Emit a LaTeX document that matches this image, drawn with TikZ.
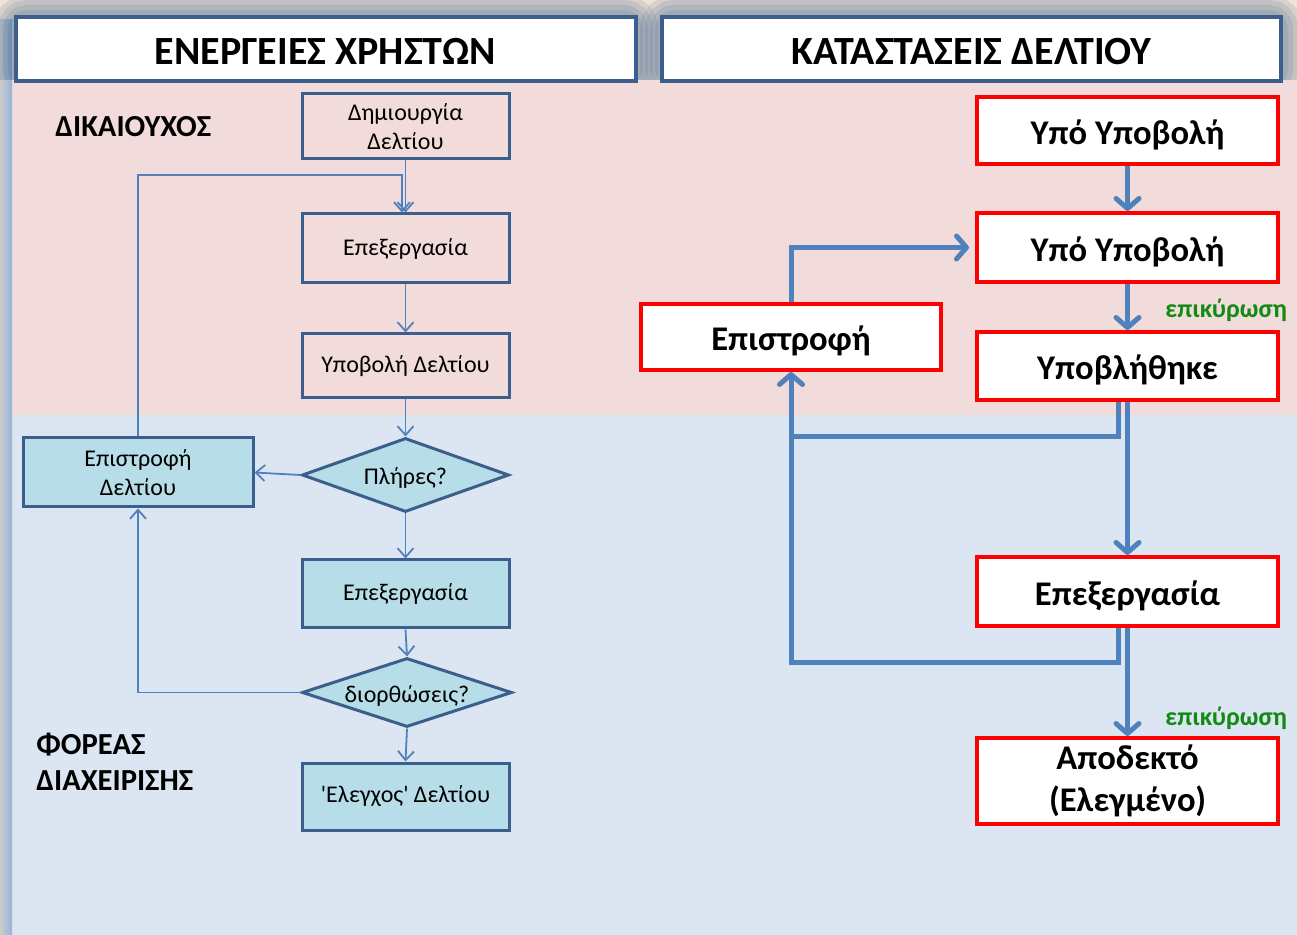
\documentclass[tikz,border=0pt]{standalone}
\usepackage{fontspec}
\setmainfont{Carlito}
\newfontfamily\lfont{Carlito}
\usetikzlibrary{arrows.meta,shapes.geometric}
\definecolor{pinkbg}{HTML}{F2DCDB}
\definecolor{bluebg}{HTML}{DCE6F2}
\definecolor{topbg}{HTML}{F0E3D5}
\definecolor{hdrblue}{HTML}{3B5E8C}
\definecolor{lineblue}{HTML}{4F81BD}
\definecolor{boxfill}{HTML}{B7DEE8}
\definecolor{okgreen}{HTML}{138A13}
\tikzset{
  hdr/.style={draw=hdrblue, line width=2pt, fill=white, minimum width=310pt, minimum height=32pt, inner sep=0pt, text height=15.6pt, text depth=0pt, font=\bfseries\fontsize{20}{22}\selectfont},
  lbox/.style={draw=hdrblue, line width=1.5pt, minimum width=103.5pt, inner sep=1pt, align=center, font=\lfont\fontsize{12}{14.5}\selectfont},
  lfill/.style={fill=boxfill},
  ldia/.style={diamond, aspect=2.8, draw=hdrblue, line width=1.5pt, fill=boxfill, inner sep=0pt, text height=9.8pt, text depth=0pt, font=\lfont\fontsize{12}{14.5}\selectfont},
  rbox/.style={draw=red, line width=2pt, fill=white, minimum width=150.5pt, inner sep=1pt, align=center, font=\bfseries\fontsize{17.3}{21}\selectfont},
  rone/.style={text height=14pt, text depth=0pt},
  thin/.style={draw=lineblue, line width=0.9pt, -{Straight Barb[length=4.5pt,width=8pt]}},
  thick/.style={draw=lineblue, line width=2.5pt, -{Straight Barb[length=5pt,width=11.5pt,round]}},
  thickline/.style={draw=lineblue, line width=2.5pt},
  lane/.style={font=\bfseries\fontsize{15.3}{18}\selectfont, align=left, inner sep=0pt},
  ok/.style={text=okgreen, font=\bfseries\fontsize{13}{15}\selectfont, inner sep=0pt}
}
\begin{document}
\begin{tikzpicture}[x=0.5pt,y=-0.5pt]
\useasboundingbox (0,0) rectangle (1297,935);
% backgrounds
\fill[topbg] (0,0) rectangle (1297,80);
\fill[pinkbg] (12,80) rectangle (1297,415);
\fill[bluebg] (12,415) rectangle (1297,935);
\shade[left color=black!20, right color=lineblue!60] (0,20) rectangle (12,935);
% header glow
\begin{scope}
\clip (0,0) rectangle (1297,80);
\foreach \w in {22,17,12,7} {
  \draw[hdrblue, opacity=0.13, line width=\w pt, rounded corners=6pt] (15,17) rectangle (636,81);
  \draw[hdrblue, opacity=0.13, line width=\w pt, rounded corners=6pt] (662,17) rectangle (1281,81);
}
\end{scope}
\node[hdr] (h1) at (325.5,49) {ΕΝΕΡΓΕΙΕΣ ΧΡΗΣΤΩΝ};
\node[hdr, minimum width=309.5pt] (h2) at (971.5,49) {ΚΑΤΑΣΤΑΣΕΙΣ ΔΕΛΤΙΟΥ};

% lane labels
\node[lane, anchor=west] (lb1) at (55,127) {ΔΙΚΑΙΟΥΧΟΣ};
\node[lane, anchor=north west] (lb2) at (36,733) {ΦΟΡΕΑΣ\\ΔΙΑΧΕΙΡΙΣΗΣ};

% left flow
\node[lbox, minimum height=32.5pt] (dim) at (405.5,126.5) {Δημιουργία\\Δελτίου};
\node[lbox, minimum height=34.5pt] (ep1) at (405.5,248.5) {Επεξεργασία};
\node[lbox, minimum height=32pt] (ypo) at (405.5,366) {Υποβολή Δελτίου};
\node[ldia, minimum width=103.5pt, minimum height=37pt] (pl) at (405.5,475) {Πλήρες?};
\node[lbox, lfill, minimum width=115pt, minimum height=34.5pt] (ret) at (138,472.5) {Επιστροφή\\Δελτίου};
\node[lbox, lfill, minimum height=34pt] (ep2) at (405.5,594) {Επεξεργασία};
\node[ldia, minimum width=105pt, minimum height=34.5pt] (dio) at (407,692.5) {διορθώσεις?};
\node[lbox, lfill, minimum height=33.5pt] (ele) at (405.5,796.5) {'Ελεγχος' Δελτίου};

\coordinate (c3) at (402,175);
\draw[thin] (dim.south) -- (ep1.north);
\draw[thin] (ret.north) |- (c3) -- (c3 |- ep1.north);
\draw[thin] (ep1.south) -- (ypo.north);
\draw[thin] (ypo.south) -- (pl.north);
\draw[thin] (pl.west) -- (ret.east);
\draw[thin] (pl.south) -- (ep2.north);
\draw[thin] (ep2.south) -- (dio.north);
\draw[thin] (dio.west) -| (ret.south);
\draw[thin] (dio.south) -- (ele.north);

% right states
\node[rbox, rone, minimum height=33.5pt] (s1) at (1127.5,130.5) {Υπό Υποβολή};
\node[rbox, rone, minimum height=34.5pt] (s2) at (1127.5,247.5) {Υπό Υποβολή};
\node[rbox, rone, minimum height=34pt] (s3) at (1127.5,366) {Υποβλήθηκε};
\node[rbox, rone, minimum width=150pt, minimum height=33pt] (sr) at (791,337) {Επιστροφή};
\node[rbox, rone, minimum height=34.5pt] (s4) at (1127.5,591.5) {Επεξεργασία};
\node[rbox, minimum height=43pt] (s5) at (1127.5,781) {Αποδεκτό\\(Ελεγμένο)};

\coordinate (c1) at (791,663);
\coordinate (c2) at (791,437);
\draw[thick] (s1.south) -- (s2.north);
\draw[thick] (s2.south) -- (s3.north);
\draw[thick, shorten >=3pt] (sr.north) |- (s2.west);
\draw[thickline] ([xshift=-4.5pt]s3.south) |- (c2);
\draw[thick] ([xshift=-4.5pt]s4.south) |- (c1) -- (sr.south);
\draw[thick] (s3.south) -- (s4.north);
\draw[thick] (s4.south) -- (s5.north);

\node[ok, anchor=west] (ok1) at (1165,310) {επικύρωση};
\node[ok, anchor=west] (ok2) at (1165,718) {επικύρωση};
\end{tikzpicture}
\end{document}
